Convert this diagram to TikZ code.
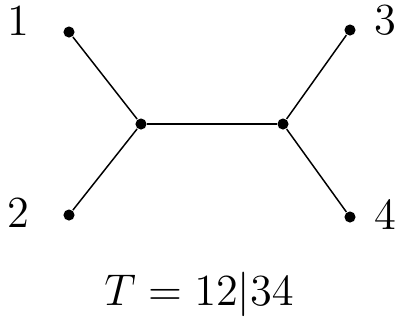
\documentclass[tikz,border=0pt]{standalone}
\begin{document}
\begin{tikzpicture}[x=0.27pt,y=-0.27pt,
  dot/.style={circle,fill=black,inner sep=0pt,minimum size=3pt}]
  \useasboundingbox (0,0) rectangle (399,323);
  \node[dot] (v1) at (69,32) {};
  \node[dot] (v2) at (69,215) {};
  \node[dot] (v3) at (350,30) {};
  \node[dot] (v4) at (350,217) {};
  \node[dot] (a) at (141,124) {};
  \node[dot] (b) at (283,124) {};
  \draw (v1) -- (a) -- (v2);
  \draw (a) -- (b);
  \draw (v3) -- (b) -- (v4);
  \node[font=\large] (n1) at (18,21) {$1$};
  \node[font=\large] (n2) at (18,213) {$2$};
  \node[font=\large] (n3) at (385,20) {$3$};
  \node[font=\large] (n4) at (385,215) {$4$};
  \node[font=\large] (t) at (199,294) {$T=12|34$};
\end{tikzpicture}
\end{document}
